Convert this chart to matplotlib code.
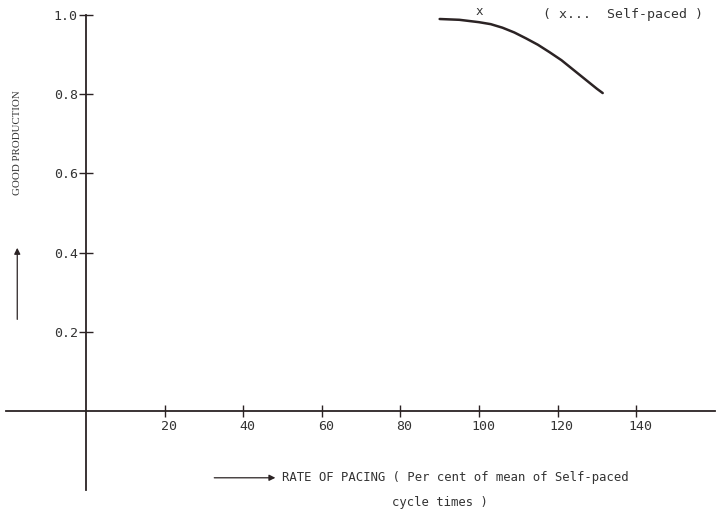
import matplotlib.pyplot as plt
from matplotlib.transforms import ScaledTranslation

# data
pacing = [90, 95, 100, 103, 106, 109, 112, 115, 118, 121, 124, 127, 130, 131.5]
good_prod = [0.99, 0.988, 0.982, 0.977, 0.968, 0.956, 0.941, 0.925,
             0.906, 0.886, 0.862, 0.838, 0.814, 0.803]
self_paced_x = 100
self_paced_y = 0.982

x_ticks = [20, 40, 60, 80, 100, 120, 140]
y_ticks = [0.2, 0.4, 0.6, 0.8, 1.0]

mono = "DejaVu Sans Mono"
ink = "#2b2324"

fig = plt.figure(figsize=(7.19, 5.11), dpi=100)
ax = fig.add_axes([0, 0, 1, 1])
ax.set_xlim(-21.9, 161.1)
ax.set_ylim(-0.2525, 1.038)

# axes crossing at the origin
for s in ["top", "right"]:
    ax.spines[s].set_visible(False)
ax.spines["left"].set_position(("data", 0))
ax.spines["bottom"].set_position(("data", 0))
ax.spines["left"].set_bounds(-0.2, 1.0)
ax.spines["bottom"].set_bounds(-20.5, 160)
for s in ["left", "bottom"]:
    ax.spines[s].set_color(ink)
    ax.spines[s].set_linewidth(1.3)

ax.set_xticks(x_ticks)
ax.set_xticklabels([str(t) for t in x_ticks], family=mono, fontsize=9.5, color="#333")
ax.set_yticks(y_ticks)
ax.set_yticklabels([f"{t:.1f}" for t in y_ticks], family=mono, fontsize=9.5, color="#333")
ax.tick_params(axis="x", direction="inout", length=9, width=1.0, color=ink, pad=2)
ax.tick_params(axis="y", direction="inout", length=10, width=1.0, color=ink, pad=1)
shift = ScaledTranslation(4 / 100, 0, fig.dpi_scale_trans)
for lbl in ax.get_xticklabels():
    lbl.set_transform(lbl.get_transform() + shift)

# curve
ax.plot(pacing, good_prod, color=ink, lw=1.8, solid_capstyle="round",
        solid_joinstyle="round")
ax.annotate("x", xy=(self_paced_x, self_paced_y), xytext=(0, 3),
            textcoords="offset points", ha="center", va="bottom",
            family=mono, fontsize=9, color="#333")
ax.text(0.755, 0.972, "( x...  Self-paced )", transform=ax.transAxes,
        family=mono, fontsize=9.5, color="#333", va="center")

# y label with arrow
ax.text(0.024, 0.72, "GOOD PRODUCTION", transform=ax.transAxes, rotation=90,
        family="Liberation Serif", fontsize=7.8, color="#333",
        ha="center", va="center")
ax.annotate("", xy=(0.024, 0.515), xytext=(0.024, 0.375), xycoords="axes fraction",
            arrowprops=dict(arrowstyle="-|>", color=ink, lw=0.9,
                            mutation_scale=9, shrinkA=0, shrinkB=0))

# x label with arrow
ax.annotate("", xy=(0.383, 0.065), xytext=(0.298, 0.065), xycoords="axes fraction",
            arrowprops=dict(arrowstyle="-|>", color=ink, lw=0.9,
                            mutation_scale=9, shrinkA=0, shrinkB=0))
ax.text(0.392, 0.065, "RATE OF PACING ( Per cent of mean of Self-paced",
        transform=ax.transAxes, family=mono, fontsize=8.8, color="#333", va="center")
ax.text(0.612, 0.016, "cycle times )", transform=ax.transAxes,
        family=mono, fontsize=8.8, color="#333", va="center", ha="center")

fig.savefig("out.png", dpi=100)
